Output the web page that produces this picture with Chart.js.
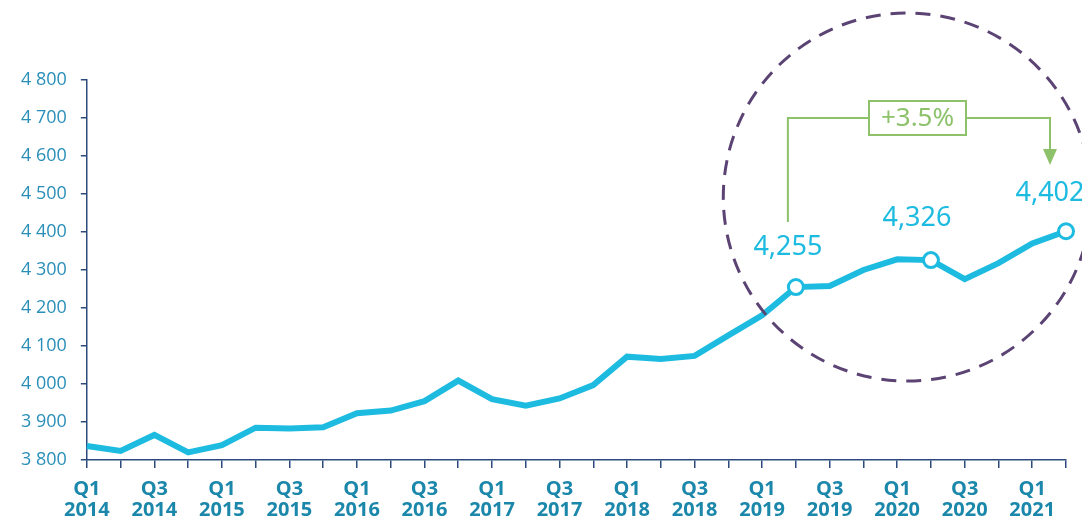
<!DOCTYPE html>
<html>
<head>
<meta charset="utf-8">
<script src="https://cdn.jsdelivr.net/npm/chart.js@4/dist/chart.umd.min.js"></script>
<style>
  html, body { margin: 0; padding: 0; background: #fff; }
  #wrap { width: 1082px; height: 518px; position: relative; }
</style>
</head>
<body>
<div id="wrap"><canvas id="c" width="1082" height="518"></canvas></div>
<script>
// quarters Q1 2014 .. Q2 2021
const quarters = [
  'Q1 2014', 'Q2 2014', 'Q3 2014', 'Q4 2014',
  'Q1 2015', 'Q2 2015', 'Q3 2015', 'Q4 2015',
  'Q1 2016', 'Q2 2016', 'Q3 2016', 'Q4 2016',
  'Q1 2017', 'Q2 2017', 'Q3 2017', 'Q4 2017',
  'Q1 2018', 'Q2 2018', 'Q3 2018', 'Q4 2018',
  'Q1 2019', 'Q2 2019', 'Q3 2019', 'Q4 2019',
  'Q1 2020', 'Q2 2020', 'Q3 2020', 'Q4 2020',
  'Q1 2021', 'Q2 2021'
];
const values = [
  3837, 3824, 3866, 3820,
  3839, 3885, 3883, 3886,
  3923, 3930, 3955, 4009,
  3960, 3943, 3962, 3997,
  4072, 4066, 4074, 4128,
  4181, 4255, 4258, 4300,
  4328, 4326, 4276, 4318,
  4370, 4402
];
// highlighted points and their labels
const markedIdx = [21, 25, 29];
const markedText = ['4,255', '4,326', '4,402'];
const changeText = '+3.5%';

const yMin = 3800, yMax = 4800, yStep = 100;

const CYAN = '#1ebbe1';
const NAVY = '#2c4a7c';
const TEAL = '#2a8fb8';
const GREEN = '#8dc26b';
const PURPLE = '#5b4474';

const fmtSpace = v => String(v).replace(/\B(?=(\d{3})+(?!\d))/g, ' ');

const overlay = {
  id: 'overlay',
  afterDatasetsDraw(chart) {
    const ctx = chart.ctx;
    const xs = chart.scales.x, ys = chart.scales.y;
    const step = xs.getPixelForValue(1) - xs.getPixelForValue(0);
    ctx.save();

    // dashed circle round the last points
    const cx = xs.getPixelForValue(24.3);
    const cy = ys.getPixelForValue(4492);
    const r = step * 5.45;
    ctx.beginPath();
    ctx.arc(cx, cy, r, 0, Math.PI * 2);
    ctx.setLineDash([15, 10]);
    ctx.lineWidth = 3;
    ctx.strokeStyle = PURPLE;
    ctx.stroke();
    ctx.setLineDash([]);

    // point labels
    const offs = [[-8, -40], [-14, -42], [-16, -38]];
    ctx.font = '27px "Noto Sans", sans-serif';
    ctx.fillStyle = CYAN;
    ctx.textAlign = 'center';
    ctx.textBaseline = 'middle';
    markedIdx.forEach((idx, i) => {
      const px = xs.getPixelForValue(idx);
      const py = ys.getPixelForValue(values[idx]);
      ctx.fillText(markedText[i], px + offs[i][0], py + offs[i][1]);
    });

    // green bracket with change label
    const x1 = xs.getPixelForValue(markedIdx[0]) - 8;
    const x2 = xs.getPixelForValue(markedIdx[2]) - 16;
    const yTop = 118;
    const yStart = ys.getPixelForValue(values[markedIdx[0]]) - 65;
    const yTip = 165;
    ctx.strokeStyle = GREEN;
    ctx.lineWidth = 2;
    ctx.beginPath();
    ctx.moveTo(x1, yStart);
    ctx.lineTo(x1, yTop);
    ctx.lineTo(x2, yTop);
    ctx.lineTo(x2, yTip - 14);
    ctx.stroke();
    ctx.fillStyle = GREEN;
    ctx.beginPath();
    ctx.moveTo(x2 - 7, yTip - 16);
    ctx.lineTo(x2 + 7, yTip - 16);
    ctx.lineTo(x2, yTip);
    ctx.closePath();
    ctx.fill();

    const bx = 869, bw = 97, by = 101, bh = 34;
    ctx.fillStyle = '#fff';
    ctx.fillRect(bx, by, bw, bh);
    ctx.strokeRect(bx, by, bw, bh);
    ctx.fillStyle = GREEN;
    ctx.font = '26px "Noto Sans", sans-serif';
    ctx.fillText(changeText, bx + bw / 2, by + bh / 2 + 1);
    ctx.restore();
  }
};

new Chart(document.getElementById('c'), {
  type: 'line',
  data: {
    labels: quarters,
    datasets: [{
      data: values,
      borderColor: CYAN,
      borderWidth: 6,
      tension: 0,
      fill: false,
      clip: false,
      pointRadius: values.map((v, i) => markedIdx.includes(i) ? 7.5 : 0),
      pointBorderWidth: 3,
      pointBorderColor: CYAN,
      pointBackgroundColor: '#fff',
      pointHoverRadius: 0
    }]
  },
  options: {
    responsive: false,
    animation: false,
    devicePixelRatio: 1,
    layout: { padding: { top: 80, right: 16, left: 7, bottom: 0 } },
    plugins: { legend: { display: false }, tooltip: { enabled: false }, title: { display: false } },
    scales: {
      x: {
        type: 'category',
        offset: false,
        // labels run to the bottom edge like the original, so fix the fitted height
        afterFit: scale => { scale.height = 58; },
        border: { color: NAVY, width: 1.5 },
        grid: { drawOnChartArea: false, drawTicks: true, tickLength: 8, color: NAVY, lineWidth: 1.5 },
        ticks: {
          autoSkip: false,
          maxRotation: 0,
          padding: 11,
          color: '#1b87aa',
          font: { family: '"Open Sans", sans-serif', size: 20, weight: 'bold', lineHeight: 1.05 },
          callback: function(val, i) {
            if (i % 2 !== 0) return '';
            return quarters[i].split(' ');
          }
        }
      },
      y: {
        min: yMin,
        max: yMax,
        border: { color: NAVY, width: 1.5 },
        grid: { drawOnChartArea: false, drawTicks: true, tickLength: 6, color: NAVY, lineWidth: 1.5 },
        ticks: {
          stepSize: yStep,
          padding: 14,
          color: TEAL,
          font: { family: '"Open Sans", sans-serif', size: 18 },
          callback: v => fmtSpace(v)
        }
      }
    }
  },
  plugins: [overlay]
});
</script>
</body>
</html>
